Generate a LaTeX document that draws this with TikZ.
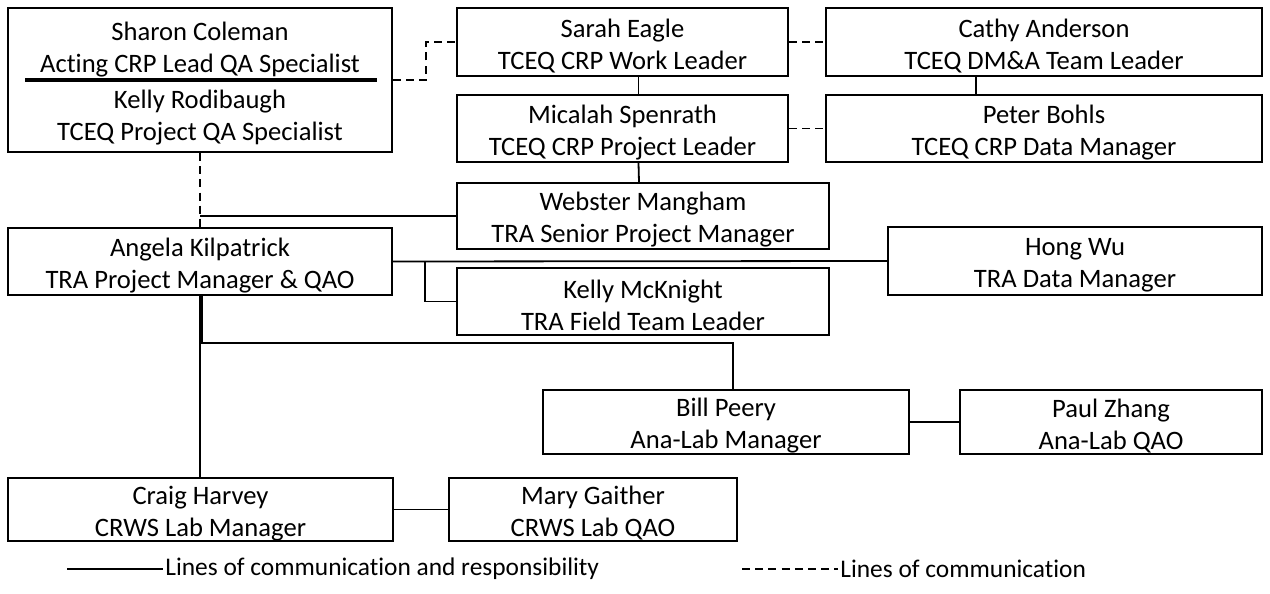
\documentclass[tikz,border=0pt]{standalone}
\usepackage{fontspec}
\setmainfont{Carlito}[Ligatures=NoCommon]
\usetikzlibrary{calc}
\newcommand\tpad{\rule{0pt}{13pt}}
\begin{document}
\begin{tikzpicture}[x=0.5pt,y=-0.5pt,
  every node/.style={font=\fontsize{13.3pt}{16pt}\selectfont},
  box/.style={draw, line width=0.9pt, align=center, inner sep=0pt},
  legendtext/.style={anchor=west, inner sep=1pt, font=\fontsize{12.7pt}{15pt}\selectfont},
  conn/.style={line width=0.9pt},
  dconn/.style={line width=0.9pt, dash pattern=on 4pt off 2.6pt}]
\useasboundingbox (0,0) rectangle (1270,594);
% boxes
\node[box, minimum width=192pt, minimum height=72pt] (Sharon) at (200,80)
  {\tpad Sharon Coleman\\Acting CRP Lead QA Specialist\\[2pt]Kelly Rodibaugh\\TCEQ Project QA Specialist};
\draw[line width=1.6pt] (25,80) -- (377,80);
\node[box, minimum width=165.5pt, minimum height=34pt] (Sarah) at (622.5,42) {\tpad Sarah Eagle\\TCEQ CRP Work Leader};
\node[box, minimum width=218pt, minimum height=34pt] (Cathy) at (1044,42) {\tpad Cathy Anderson\\TCEQ DM\&A Team Leader};
\node[box, minimum width=165.5pt, minimum height=33.5pt] (Micalah) at (622.5,128.5) {\tpad Micalah Spenrath\\TCEQ CRP Project Leader};
\node[box, minimum width=218pt, minimum height=33.5pt] (Peter) at (1044,128.5) {\tpad Peter Bohls\\TCEQ CRP Data Manager};
\node[box, minimum width=186pt, minimum height=33pt] (Webster) at (643,216) {\tpad Webster Mangham\\TRA Senior Project Manager};
\node[box, minimum width=192pt, minimum height=33.5pt] (Angela) at (200,261.5) {\tpad Angela Kilpatrick\\TRA Project Manager \& QAO};
\node[box, minimum width=187pt, minimum height=34pt] (Hong) at (1075,261) {\tpad Hong Wu\\TRA Data Manager};
\node[box, minimum width=186pt, minimum height=33.5pt] (Kelly) at (643,301.5) {\tpad Kelly McKnight\\TRA Field Team Leader};
\node[box, minimum width=183pt, minimum height=32pt] (Bill) at (726,422) {\tpad Bill Peery\\Ana-Lab Manager};
\node[box, minimum width=151pt, minimum height=32pt] (Paul) at (1111,422) {\tpad Paul Zhang\\Ana-Lab QAO};
\node[box, minimum width=192.5pt, minimum height=31.5pt] (Craig) at (200.5,509.5) {\tpad Craig Harvey\\CRWS Lab Manager};
\node[box, minimum width=144pt, minimum height=31.5pt] (Mary) at (593,509.5) {\tpad Mary Gaither\\CRWS Lab QAO};
% coordinates
\coordinate (d1) at (426,80);
\coordinate (b1) at (425,261);
\coordinate (c1) at (733,343);
% dashed connectors
\draw[dconn] (Sharon.east |- d1) -- (d1) |- (Sarah.west);
\draw[dconn] (Sarah.east) -- (Cathy.west);
\draw[dconn] (Micalah.east) -- (Peter.west);
\draw[dconn] (Sharon.south) -- (Angela.north);
% solid connectors
\draw[conn] ([xshift=8pt]Sarah.south) -- ([xshift=8pt]Micalah.north);
\draw[conn] ([xshift=8pt]Micalah.south) -- ([xshift=-2pt]Webster.north);
\draw[conn] ([xshift=-34pt]Cathy.south) -- ([xshift=-34pt]Peter.north);
\draw[conn] (Sharon.south |- Webster.west) -- (Webster.west);
\draw[conn] (Angela.east) -- (Hong.west);
\draw[conn] (b1) |- (Kelly.west);
\draw[conn] ([xshift=1pt]Angela.south) |- (c1) -- (c1 |- Bill.north);
\draw[conn] (Angela.south) -- (Angela.south |- Craig.north);
\draw[conn] (Bill.east) -- (Paul.west);
\draw[conn] (Craig.east) -- (Mary.west);
% legend
\coordinate (l1) at (67,569);
\coordinate (l2) at (163,569);
\coordinate (l3) at (742,569);
\coordinate (l4) at (838,569);
\draw[conn] (l1) -- (l2);
\node[legendtext] (t1) at (l2) {Lines of communication and responsibility};
\draw[dconn] (l3) -- (l4);
\node[legendtext] (t2) at (l4) {Lines of communication};
\end{tikzpicture}
\end{document}
